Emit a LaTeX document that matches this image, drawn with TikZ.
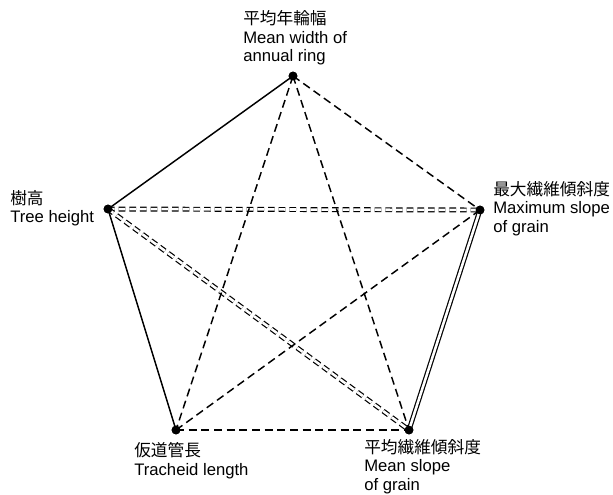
\documentclass[tikz,border=0pt]{standalone}
\usepackage{fontspec}
\setmainfont{Liberation Sans}
\newfontfamily\cjk{Noto Sans CJK JP}
\usetikzlibrary{positioning}

\begin{document}
\begin{tikzpicture}[
    x=0.75pt, y=-0.75pt,
    font=\fontsize{12.5}{14}\selectfont,
    point/.style={circle, fill, inner sep=0pt, minimum size=6.5pt},
    tag/.style={align=left, inner sep=0pt, anchor=north west},
    single/.style={line width=1.1pt},
    broken/.style={line width=1.1pt, dash pattern=on 6pt off 3.5pt},
    twin/.style={line width=0.9pt, double, double distance=1.9pt},
    twinbroken/.style={twin, dash pattern=on 5pt off 3pt},
  ]
    \useasboundingbox (0,0) rectangle (613,494);

    % the five traits
    \node[point] (Ring) at (293,76) {};
    \node[point] (Height) at (108,209) {};
    \node[point] (MaxSlope) at (480,210) {};
    \node[point] (Tracheid) at (176,430) {};
    \node[point] (MeanSlope) at (409,430) {};

    \node[tag] (RingTag) at (243,10) {{\cjk 平均年輪幅}\\Mean width of\\annual ring};
    \node[tag] (HeightTag) at (10,190) {{\cjk 樹高}\\Tree height};
    \node[tag] (MaxSlopeTag) at (493,181) {{\cjk 最大繊維傾斜度}\\Maximum slope\\of grain};
    \node[tag] (TracheidTag) at (134,442) {{\cjk 仮道管長}\\Tracheid length};
    \node[tag] (MeanSlopeTag) at (364,439) {{\cjk 平均繊維傾斜度}\\Mean slope\\of grain};

    % double links first, single ones on top
    \draw[twinbroken] (Height.center) -- (MaxSlope.center);
    \draw[twinbroken] (Height.center) -- (MeanSlope.center);
    \draw[twin] (MaxSlope.center) -- (MeanSlope.center);

    \draw[single] (Ring.center) -- (Height.center);
    \draw[single] (Height.center) -- (Tracheid.center);
    \draw[broken] (Ring.center) -- (MaxSlope.center);
    \draw[broken] (Ring.center) -- (Tracheid.center);
    \draw[broken] (Ring.center) -- (MeanSlope.center);
    \draw[broken] (MaxSlope.center) -- (Tracheid.center);
    \draw[broken] (Tracheid.center) -- (MeanSlope.center);

    \foreach \p in {Ring, Height, MaxSlope, Tracheid, MeanSlope}
      \fill (\p) circle[radius=3.3pt];
  \end{tikzpicture}
\end{document}
